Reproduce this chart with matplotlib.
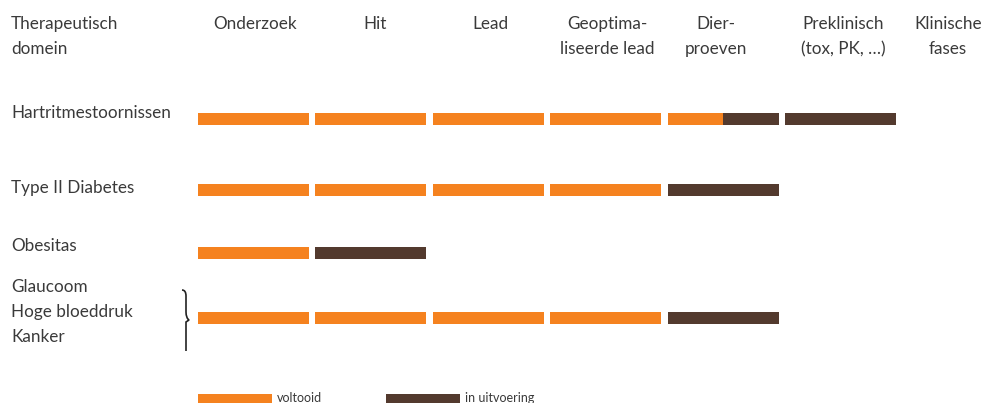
import matplotlib
matplotlib.use("Agg")
import matplotlib.pyplot as plt
from matplotlib.path import Path
from matplotlib.patches import PathPatch

# stages (column headers) and therapeutic domains (rows)
stages = ["Onderzoek", "Hit", "Lead", "Geoptima-\nliseerde lead", "Dier-\nproeven",
          "Preklinisch\n(tox, PK, \u2026)", "Klinische\nfases"]
domains = ["Hartritmestoornissen", "Type II Diabetes", "Obesitas",
           "Glaucoom\nHoge bloeddruk\nKanker"]

# fraction of each stage completed / in progress per domain
done = [
    [1, 1, 1, 1, 0.5, 0],
    [1, 1, 1, 1, 0, 0],
    [1, 0, 0, 0, 0, 0],
    [1, 1, 1, 1, 0, 0],
]
busy = [
    [0, 0, 0, 0, 0.5, 1],
    [0, 0, 0, 0, 1, 0],
    [0, 1, 0, 0, 0, 0],
    [0, 0, 0, 0, 1, 0],
]
legend_labels = ["voltooid", "in uitvoering"]

ORANGE = "#f5821f"
BROWN = "#533a2e"
TXT = "#3a3a3a"
FONT = ["Lato", "DejaVu Sans"]
FS = 12.3

# layout in pixel units
x0, step, barw, barh = 198, 117.4, 111, 12
row_y = [119, 190, 253, 318]
label_y = [113, 188, 246, 312]
header_x = [255, 375, 490, 607, 716, 843, 948]

fig = plt.figure(figsize=(9.96, 4.03), dpi=100)
ax = fig.add_axes([0, 0, 1, 1])
ax.set_xlim(0, 996)
ax.set_ylim(403, 0)
ax.axis("off")

ax.text(11, 16, "Therapeutisch\ndomein", fontsize=FS, color=TXT, family=FONT,
        va="top", ha="left", linespacing=1.7)
for hx, s in zip(header_x, stages):
    ax.text(hx, 16, s, fontsize=FS, color=TXT, family=FONT, va="top",
            ha="center", linespacing=1.7)

for r, (d, b) in enumerate(zip(done, busy)):
    for i in range(len(d)):
        left = x0 + i * step
        if d[i] > 0:
            ax.barh(row_y[r], barw * d[i], height=barh, left=left, color=ORANGE)
        if b[i] > 0:
            ax.barh(row_y[r], barw * b[i], height=barh, left=left + barw * d[i], color=BROWN)
    ax.text(11, label_y[r], domains[r], fontsize=FS, color=TXT, family=FONT,
            va="center", ha="left", linespacing=1.7)

# curly brace for grouped domains
bx, top, bot, mid = 182, 290, 351, 320
verts = [(bx, top), (bx + 4, top), (bx + 4, top + 6), (bx + 4, mid - 8),
         (bx + 4, mid - 2), (bx + 7, mid), (bx + 7, mid),
         (bx + 7, mid), (bx + 4, mid + 2), (bx + 4, mid + 8),
         (bx + 4, bot - 6), (bx + 4, bot)]
codes = [Path.MOVETO, Path.CURVE3, Path.CURVE3, Path.LINETO,
         Path.CURVE3, Path.CURVE3, Path.LINETO,
         Path.CURVE3, Path.CURVE3, Path.LINETO,
         Path.CURVE3, Path.CURVE3]
ax.add_patch(PathPatch(Path(verts, codes), fill=False, lw=1.2, color="#222222"))

# legend
for k, (lab, c) in enumerate(zip(legend_labels, [ORANGE, BROWN])):
    lx = 198 + k * 188
    ax.barh(399, 74, height=10, left=lx, color=c)
    ax.text(lx + 79, 398, lab, fontsize=9, color=TXT, family=FONT, va="center", ha="left")

fig.savefig("out.png", dpi=100)
